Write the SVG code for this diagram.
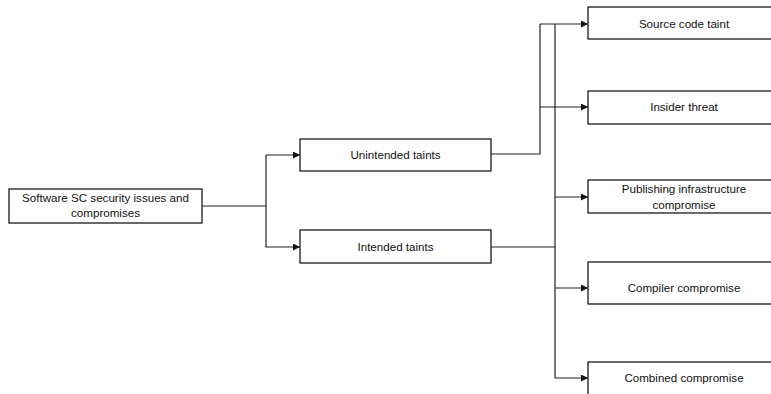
<svg xmlns="http://www.w3.org/2000/svg" width="771" height="394" viewBox="0 0 771 394">
  <defs>
    <marker id="arrow" viewBox="0 0 10 10" refX="10" refY="5" markerWidth="8" markerHeight="7" markerUnits="userSpaceOnUse" orient="auto">
      <path d="M0,0 L10,5 L0,10 Z" fill="#111"/>
    </marker>
    <style>
      .box { fill: #fff; stroke: #1a1a1a; stroke-width: 1.3; }
      .lbl { font-family: "Liberation Sans", Arial, sans-serif; font-size: 11.6px; fill: #111; text-anchor: middle; }
      .wire { fill: none; stroke: #222; stroke-width: 1.2; }
      .arr { marker-end: url(#arrow); }
    </style>
  </defs>
  <rect width="771" height="394" fill="#fff"/>

  <g id="connectors">
    <!-- root to second level -->
    <path class="wire" d="M202,206 H266 V155"/>
    <path class="wire arr" d="M266,155 H300"/>
    <path class="wire arr" d="M266,206 V247 H300"/>
    <!-- unintended taints branch -->
    <path class="wire" d="M491,154 H540 V24"/>
    <path class="wire arr" d="M540,24 H588"/>
    <path class="wire arr" d="M540,107 H588"/>
    <!-- intended taints branch -->
    <path class="wire" d="M491,247 H555"/>
    <path class="wire" d="M555,24 V378"/>
    <path class="wire arr" d="M555,197 H588"/>
    <path class="wire arr" d="M555,288 H588"/>
    <path class="wire arr" d="M555,378 H588"/>
  </g>

  <g id="root">
    <rect class="box" x="9" y="189" width="193" height="34"/>
    <text class="lbl" x="105.5" y="202">Software SC security issues and</text>
    <text class="lbl" x="105.5" y="217">compromises</text>
  </g>

  <g id="unintended">
    <rect class="box" x="300" y="139" width="191" height="32"/>
    <text class="lbl" x="395.5" y="159">Unintended taints</text>
  </g>

  <g id="intended">
    <rect class="box" x="300" y="230" width="191" height="33"/>
    <text class="lbl" x="395.5" y="251">Intended taints</text>
  </g>

  <g id="source-code-taint">
    <rect class="box" x="588" y="7" width="192" height="32"/>
    <text class="lbl" x="684" y="28">Source code taint</text>
  </g>

  <g id="insider-threat">
    <rect class="box" x="588" y="91" width="192" height="33"/>
    <text class="lbl" x="684" y="111">Insider threat</text>
  </g>

  <g id="publishing-infrastructure">
    <rect class="box" x="588" y="180" width="192" height="33"/>
    <text class="lbl" x="684" y="193">Publishing infrastructure</text>
    <text class="lbl" x="684" y="209">compromise</text>
  </g>

  <g id="compiler-compromise">
    <rect class="box" x="588" y="262" width="192" height="42"/>
    <text class="lbl" x="684" y="292">Compiler compromise</text>
  </g>

  <g id="combined-compromise">
    <rect class="box" x="588" y="362" width="192" height="40"/>
    <text class="lbl" x="684" y="382">Combined compromise</text>
  </g>
</svg>
